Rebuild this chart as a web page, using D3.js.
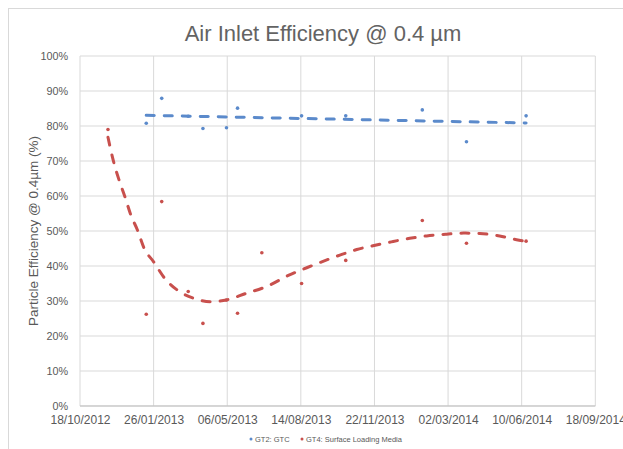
<!DOCTYPE html>
<html><head><meta charset="utf-8">
<script src="https://cdn.jsdelivr.net/npm/d3@7"></script>
<style>body{margin:0;background:#fff}svg{display:block}</style>
</head><body><svg id="c" width="623" height="449"></svg>
<script>
const title = "Air Inlet Efficiency @ 0.4 µm";
const yLabel = "Particle Efficiency @ 0.4µm (%)";
const seriesNames = ["GT2: GTC", "GT4: Surface Loading Media"];
const xTickLabels = ["18/10/2012","26/01/2013","06/05/2013","14/08/2013","22/11/2013","02/03/2014","10/06/2014","18/09/2014"];
const yTicks = [0,10,20,30,40,50,60,70,80,90,100];
const gt2Dates = ["2013-01-16","2013-02-06","2013-03-14","2013-04-03","2013-05-05","2013-05-20","2013-08-15","2013-10-14","2014-01-26","2014-03-27","2014-06-16"];
const gt2Values = [80.8,87.9,82.8,79.3,79.5,85.1,82.9,82.9,84.6,75.5,82.9];
const gt4Dates = ["2012-11-25","2013-01-16","2013-02-06","2013-03-14","2013-04-03","2013-05-05","2013-05-20","2013-06-22","2013-08-15","2013-10-14","2014-01-26","2014-03-27","2014-06-16"];
const gt4Values = [79.0,26.2,58.4,32.7,23.6,30.3,26.5,43.8,35.0,41.6,53.0,46.5,47.1];
// GT4 polynomial trendline
const gt4TrendDates = ["2012-11-25","2012-12-02","2012-12-10","2012-12-18","2012-12-26","2013-01-04","2013-01-13","2013-01-26","2013-02-10","2013-02-28","2013-03-21","2013-04-13","2013-05-05","2013-06-01","2013-06-28","2013-07-28","2013-08-22","2013-09-14","2013-10-06","2013-10-29","2013-11-20","2013-12-15","2014-01-09","2014-02-01","2014-02-28","2014-03-23","2014-04-14","2014-05-11","2014-06-03","2014-06-16"];
const gt4TrendValues = [76.8,70.3,64.6,59.8,54.6,50.3,45.1,41.2,36.5,33.0,30.8,29.8,30.3,32.2,34.1,37.3,39.5,41.4,43.1,44.7,45.8,46.9,47.9,48.6,49.1,49.4,49.3,48.6,47.5,47.0];
const colors = ["#5B8ACB","#C8504D"];

const parse = d3.timeParse("%Y-%m-%d");
const parseTick = d3.timeParse("%d/%m/%Y");
const svg = d3.select("#c");
const m = {l:80, r:595.3, t:56, b:406};
const x = d3.scaleTime().domain([parseTick(xTickLabels[0]), parseTick(xTickLabels[xTickLabels.length-1])]).range([m.l, m.r]);
const y = d3.scaleLinear().domain([0,100]).range([m.b, m.t]);

svg.append("rect").attr("x",8.5).attr("y",8.5).attr("width",640).attr("height",460).attr("fill","#fff").attr("stroke","#d9d9d9");

const font = "'Liberation Sans', Arial, sans-serif";
svg.append("g").selectAll("line").data(yTicks).join("line")
  .attr("x1",m.l).attr("x2",m.r).attr("y1",d=>y(d)).attr("y2",d=>y(d))
  .attr("stroke","#d9d9d9").attr("stroke-width",1);
svg.append("g").selectAll("line").data(xTickLabels).join("line")
  .attr("x1",d=>x(parseTick(d))).attr("x2",d=>x(parseTick(d))).attr("y1",m.t).attr("y2",m.b)
  .attr("stroke","#d9d9d9").attr("stroke-width",1);
svg.append("line").attr("x1",m.l).attr("x2",m.r).attr("y1",m.b).attr("y2",m.b).attr("stroke","#bfbfbf");

const ya = d3.axisLeft(y).tickValues(yTicks).tickFormat(d=>d+"%").tickSize(0).tickPadding(12);
const yg = svg.append("g").attr("transform",`translate(${m.l},0)`).call(ya);
yg.select(".domain").remove();
yg.selectAll("text").attr("fill","#595959").style("font-family",font).style("font-size","10.8px");
const xa = d3.axisBottom(x).tickValues(xTickLabels.map(parseTick)).tickFormat(d3.timeFormat("%d/%m/%Y")).tickSize(0).tickPadding(9);
const xg = svg.append("g").attr("transform",`translate(0,${m.b})`).call(xa);
xg.select(".domain").remove();
xg.selectAll("text").attr("fill","#595959").style("font-family",font).style("font-size","12px");

svg.append("text").attr("x",323).attr("y",41).attr("text-anchor","middle")
  .attr("fill","#636363").style("font-family","'Liberation Sans Narrow', 'Liberation Sans', sans-serif").style("font-size","22px").text(title);
svg.append("text").attr("transform",`translate(38,${(m.t+m.b)/2}) rotate(-90)`).attr("text-anchor","middle")
  .attr("fill","#595959").style("font-family","'Liberation Sans Narrow', 'Liberation Sans', sans-serif").style("font-size","13.5px").text(yLabel);

// linear least-squares trend for GT2
function linTrend(dates, vals){
  const xs = dates.map(d=>+parse(d)), n = xs.length;
  const mx = d3.mean(xs), my = d3.mean(vals);
  let sxy=0, sxx=0;
  xs.forEach((v,i)=>{ sxy += (v-mx)*(vals[i]-my); sxx += (v-mx)*(v-mx); });
  const b = sxy/sxx, a = my - b*mx;
  return [xs[0], xs[n-1]].map(v=>[new Date(v), a + b*v]);
}
const dashed = p => p.attr("fill","none").attr("stroke-width",3).attr("stroke-dasharray","8,10").attr("stroke-linecap","round");
const lineLin = d3.line().x(d=>x(d[0])).y(d=>y(d[1]));
const lineCurve = d3.line().x(d=>x(d[0])).y(d=>y(d[1])).curve(d3.curveMonotoneX);

svg.append("path").attr("d",lineLin(linTrend(gt2Dates,gt2Values))).call(dashed).attr("stroke",colors[0]);
svg.append("path").attr("d",lineCurve(gt4TrendDates.map((d,i)=>[parse(d),gt4TrendValues[i]]))).call(dashed).attr("stroke",colors[1]);

[[gt2Dates,gt2Values],[gt4Dates,gt4Values]].forEach((s,i)=>{
  svg.append("g").selectAll("circle").data(s[0].map((d,j)=>[parse(d),s[1][j]])).join("circle")
    .attr("cx",d=>x(d[0])).attr("cy",d=>y(d[1])).attr("r",1.8).attr("fill",colors[i]);
});

const lg = svg.append("g").style("font-family",font).style("font-size","7.5px");
const lx = [251, 302];
seriesNames.forEach((n,i)=>{
  lg.append("circle").attr("cx",lx[i]).attr("cy",439).attr("r",1.5).attr("fill",colors[i]);
  lg.append("text").attr("x",lx[i]+4).attr("y",441.7).attr("fill","#595959").text(n);
});
</script></body></html>
